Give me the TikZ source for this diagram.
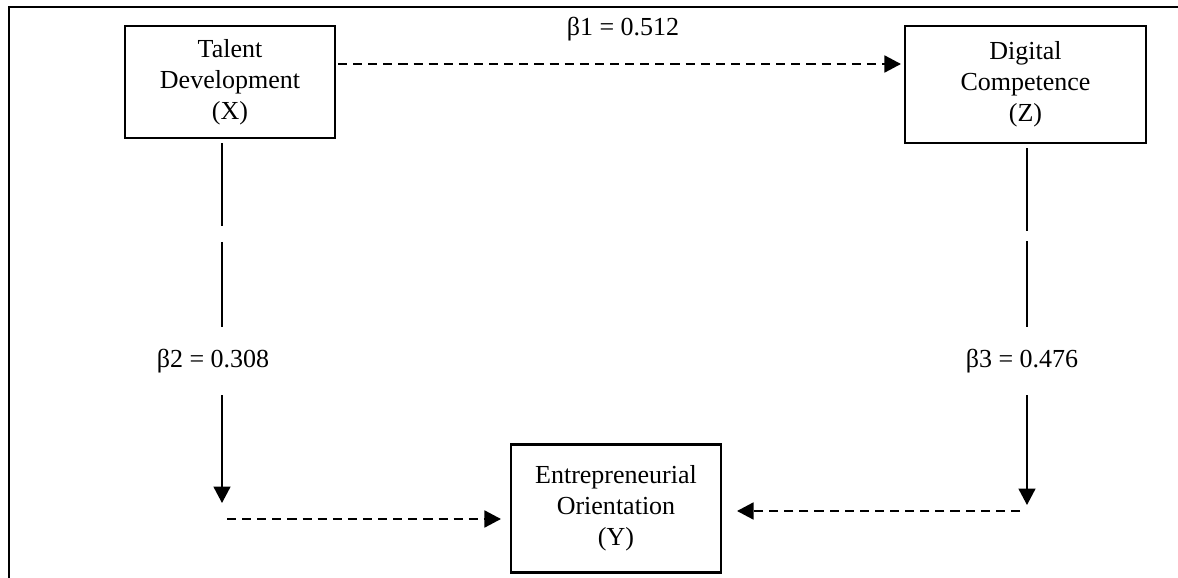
\documentclass[tikz,border=0pt]{standalone}
\usepackage{fontspec}
\setmainfont{Liberation Serif}
\usetikzlibrary{arrows.meta,calc}

\begin{document}
\begin{tikzpicture}[x=0.02cm,y=-0.02cm,font=\fontsize{14.8}{17.6}\selectfont,
  box/.style={draw,line width=1.2pt,align=center,inner sep=0pt},
  coef/.style={inner sep=0pt,minimum height=1.36cm},
  pathline/.style={line width=1pt},
  patharrow/.style={pathline,-{Triangle[length=0.33cm,width=0.34cm]}},
  dasharrow/.style={patharrow,dash pattern=on 5.2pt off 3.4pt}]
  \useasboundingbox (0,0) rectangle (1178,578);
  % frame
  \draw[line width=1.2pt] (9,578) -- (9,7) -- (1178,7);
  % variables
  \node[box,minimum width=4.2cm,minimum height=2.24cm] (X) at (230,82) {Talent\\Development\\(X)};
  \node[box,minimum width=4.82cm,minimum height=2.34cm] (Z) at (1025.5,84.5) {Digital\\Competence\\(Z)};
  \node[box,minimum width=4.2cm,minimum height=2.56cm] (Y) at (616,508.5) {Entrepreneurial\\Orientation\\(Y)};
  % coefficients
  \node[inner sep=0pt] (b1) at (623,29) {β1 = 0.512};
  \node[coef] (b2) at (213,361) {β2 = 0.308};
  \node[coef] (b3) at (1022,361) {β3 = 0.476};
  % X -> Z
  \coordinate (t1) at (337,64);
  \draw[dasharrow,shorten <=0.04cm,shorten >=0.06cm] (X.east |- t1) -- (Z.west |- t1);
  % X -> Y
  \coordinate (gx) at (222,234);
  \coordinate (ex) at (222,503);
  \coordinate (dx) at (227,519);
  \draw[pathline,shorten <=0.08cm] (X.south -| gx) -- ([yshift=0.16cm]gx);
  \draw[pathline] ([yshift=-0.16cm]gx) -- (b2.north -| gx);
  \draw[patharrow] (b2.south -| gx) -- (ex);
  \draw[dasharrow,shorten >=0.18cm] (dx) -- (Y.west |- dx);
  % Z -> Y
  \coordinate (gz) at (1027,236);
  \coordinate (ez) at (1027,505);
  \coordinate (dz) at (1020,511);
  \draw[pathline,shorten <=0.08cm] (Z.south -| gz) -- ([yshift=0.1cm]gz);
  \draw[pathline] ([yshift=-0.1cm]gz) -- (b3.north -| gz);
  \draw[patharrow] (b3.south -| gz) -- (ez);
  \draw[dasharrow,shorten >=0.3cm] (dz) -- (Y.east |- dz);
\end{tikzpicture}
\end{document}
